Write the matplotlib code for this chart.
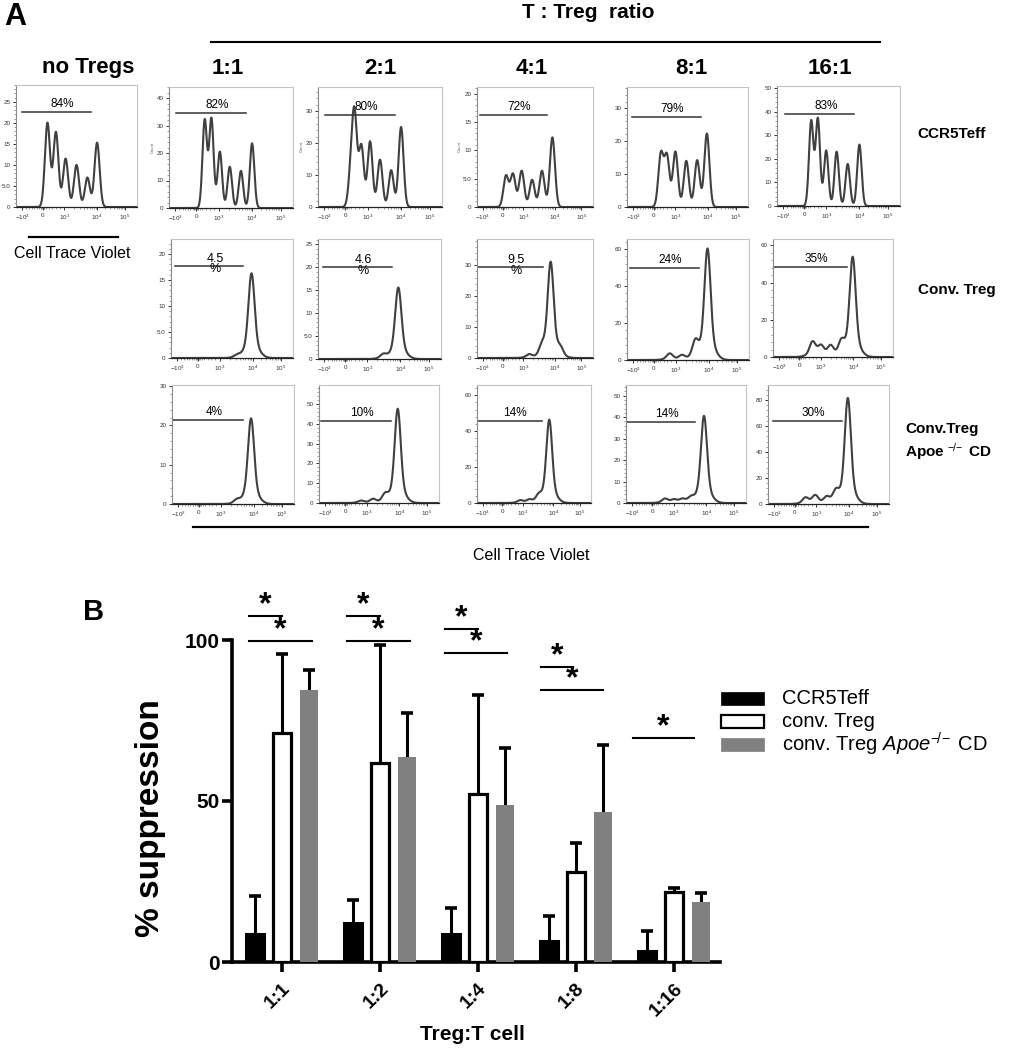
import numpy as np
import matplotlib
matplotlib.use('Agg')
import matplotlib.pyplot as plt
from matplotlib.lines import Line2D
from matplotlib.patches import Rectangle
from matplotlib.ticker import MultipleLocator

plt.rcParams['font.family'] = ['Liberation Sans', 'DejaVu Sans']
plt.rcParams['mathtext.fontset'] = 'custom'
plt.rcParams['mathtext.rm'] = 'Liberation Sans'
plt.rcParams['mathtext.it'] = 'Liberation Sans:italic'
plt.rcParams['mathtext.bf'] = 'Liberation Sans:bold'

W, H = 1009, 1050

# ---------------- panel A data ----------------
ratios = ['1:1', '2:1', '4:1', '8:1', '16:1']
row_labels = ['CCR5Teff', 'Conv. Treg', 'Conv.Treg\nApoe $^{-\\!/\\!-}$ CD']

# peak position (0-100 along the CTV axis), peak height (count)
no_tregs_pos = [26, 33, 41, 50, 59, 67]
no_tregs_h = [20, 17.8, 11.5, 10, 7, 15.3]
no_tregs_ymax = 29
no_tregs_gate = 22.5
no_tregs_pct = '84%'

teff_pos = [[28.8, 34.2, 41, 49, 58, 67],
            [26.5, 29.5, 35, 42, 50, 59, 67],
            [25, 31, 38.5, 47.5, 56, 65],
            [28, 33, 40, 49, 58, 66],
            [27.8, 33.2, 40, 48.5, 57.5, 67]]
teff_h = [[32, 32.5, 20.5, 15, 13.5, 23.5],
          [10, 27.5, 19, 20.5, 14.8, 11.5, 25],
          [5.5, 5.8, 6.4, 4.8, 6.4, 12.3],
          [16, 15.3, 16.8, 14, 14.2, 22.3],
          [36, 37, 23.5, 23, 17.8, 26]]
teff_ymax = [44, 37.5, 21.2, 36.4, 50.8]
teff_ystep = [10, 10, 5, 10, 10]
teff_gate = [34.5, 28.7, 16.3, 27.4, 38.8]
teff_pct = ['82%', '80%', '72%', '79%', '83%']

treg_pos = [[54, 66],
            [53, 65.3],
            [45, 56, 63.5, 72],
            [35, 45, 56, 66],
            [33, 40, 48, 57, 66.4]]
treg_h = [[0.5, 16.3],
          [1.0, 15.6],
          [1.2, 3.0, 30.8, 2.5],
          [3.5, 2.5, 9.5, 60],
          [8.0, 5.6, 5.8, 7.6, 53.6]]
treg_ymax = [22.9, 26.2, 38.5, 65.4, 63.4]
treg_ystep = [5, 5, 10, 20, 20]
treg_gate = [17.8, 20.1, 29.5, 49.6, 48.3]
treg_pct = ['4.5\n%', '4.6\n%', '9.5\n%', '24%', '35%']

apoe_pos = [[53, 64.8],
            [35, 45, 55, 65.6],
            [38, 46, 54, 63.4],
            [32.5, 40, 47, 54, 65],
            [31, 39, 48.5, 56, 66]]
apoe_h = [[1, 21.8],
          [1.2, 2, 4.0, 47.6],
          [1.5, 1.8, 3.6, 46.3],
          [2, 1.5, 1.8, 2.3, 40.6],
          [4.8, 6.5, 5.2, 9.0, 81.3]]
apoe_ymax = [30.3, 59.7, 65.7, 55, 91.5]
apoe_ystep = [10, 10, 20, 10, 20]
apoe_gate = [21.4, 41.6, 45.5, 37.7, 64]
apoe_pct = ['4%', '10%', '14%', '14%', '30%']

# ---------------- panel B data ----------------
groups = ['1:1', '1:2', '1:4', '1:8', '1:16']
series = ['CCR5Teff', 'conv. Treg', r'conv. Treg $\mathit{Apoe}^{-\!/\!-}$ CD']
ccr5_mean = [8.7, 12, 8.7, 6.6, 3.4]
ccr5_sd = [11.7, 7.1, 8.1, 7.7, 6.1]
conv_mean = [71, 61.8, 52.3, 28, 21.6]
conv_sd = [24.6, 36.6, 30.6, 9, 1.4]
apoe_mean = [84.5, 63.7, 48.8, 46.5, 18.6]
apoe_sd = [6.2, 13.6, 17.7, 21, 2.8]

# significance bars: group, start/end offset, height
sig_group = [0, 0, 1, 1, 2, 2, 3, 3, 4]
sig_x0 = [-0.34, -0.34, -0.34, -0.34, -0.34, -0.34, -0.36, -0.36, -0.42]
sig_x1 = [0.0, 0.31, 0.0, 0.31, 0.0, 0.30, -0.03, 0.28, 0.20]
sig_y = [107.5, 99.7, 107.5, 99.7, 103.4, 96, 91.6, 84.5, 69.6]

fig = plt.figure(figsize=(W / 100, H / 100), dpi=100)


def px_axes(l, t, r, b):
    return fig.add_axes([l / W, 1 - b / H, (r - l) / W, (b - t) / H])


def fline(x0, x1, y, lw=1.5):
    fig.add_artist(Line2D([x0 / W, x1 / W], [1 - y / H, 1 - y / H],
                          color='black', lw=lw, transform=fig.transFigure))


def ftext(x, y, s, **kw):
    fig.text(x / W, 1 - y / H, s, **kw)


xgrid = np.linspace(0, 100, 900)
minor_x = ([8, 11, 13, 15, 17, 19, 20.5, 21, 21.5, 22.5, 23, 23.5, 25, 27, 30, 33, 36]
           + list(40 + 27 * np.log10(np.arange(2, 10)))
           + list(67 + 23 * np.log10(np.arange(2, 10))))


def peak(c, s, broad):
    d2 = (xgrid - c) ** 2
    return (1 - broad) * np.exp(-d2 / (2 * s ** 2)) + broad * np.exp(-d2 / (2 * (2.2 * s) ** 2))


def histo(box, pos, hts, sigma, broad, ymax, ystep, gate_y, gate_x, pct, count=False):
    ax = px_axes(*box)
    y = np.zeros_like(xgrid)
    for c, h in zip(pos, hts):
        y += h * peak(c, sigma, broad)
    ax.plot(xgrid, y, color='#404040', lw=1.5)
    ax.set_xlim(0, 100)
    ax.set_ylim(0, ymax)
    ax.set_xticks([5, 22, 40, 67, 90])
    ax.set_xticklabels(['$-10^3$', '0', '$10^3$', '$10^4$', '$10^5$'])
    ax.set_xticks(minor_x, minor=True)
    yt = np.arange(0, ymax + 0.01, ystep)
    ax.set_yticks(yt)
    ax.set_yticklabels(['5.0' if v == 5 else f'{v:g}' for v in yt])
    ax.yaxis.set_minor_locator(MultipleLocator(ystep / 5))
    ax.tick_params(which='major', length=2.5, width=0.7, pad=1.5,
                   labelsize=4.5, colors='#333333')
    ax.tick_params(which='minor', length=1.3, width=0.4, colors='#555555')
    for sp in ['top', 'right']:
        ax.spines[sp].set_color('#c4c4c4')
        ax.spines[sp].set_linewidth(0.8)
    ax.spines['left'].set_color('#8a8a8a')
    ax.spines['left'].set_linewidth(0.8)
    ax.spines['bottom'].set_color('#222222')
    ax.spines['bottom'].set_linewidth(0.9)
    ax.plot(gate_x, [gate_y, gate_y], color='#333333', lw=1.1)
    xm = (gate_x[0] + gate_x[1]) / 2 + 5
    if '\n' in pct:
        ax.annotate(pct, xy=(xm, gate_y), xytext=(0, 1), textcoords='offset points',
                    ha='center', va='center', fontsize=9, linespacing=0.85,
                    annotation_clip=False)
    else:
        ax.annotate(pct, xy=(xm, gate_y), xytext=(0, 1.5), textcoords='offset points',
                    ha='center', va='bottom', fontsize=8.5, annotation_clip=False)
    if count:
        ax.set_ylabel('Count', fontsize=3, labelpad=1, color='#555555')
    return ax


# ---------------- panel A layout ----------------
ftext(4, 25, 'A', fontsize=22, fontweight='bold', va='baseline')
ftext(588, 12, 'T : Treg  ratio', fontsize=15, fontweight='bold', ha='center', va='center')
fline(211, 880, 42)
ftext(88, 68, 'no Tregs', fontsize=16, fontweight='bold', ha='center', va='center')
for cx, lab in zip([228, 380, 532, 691, 830], ratios):
    ftext(cx, 68, lab, fontsize=16, fontweight='bold', ha='center', va='center')

histo((16, 85, 137, 207), no_tregs_pos, no_tregs_h, 2.1, 0.0, no_tregs_ymax, 5,
      no_tregs_gate, (5, 62), no_tregs_pct)
fline(29, 118, 237, lw=1.6)
ftext(72, 253, 'Cell Trace Violet', fontsize=11.5, ha='center', va='center')

row1_box = [(169, 87, 293, 208), (318, 87, 442, 207), (477, 87, 593, 207),
            (627, 87, 748, 207), (777, 86, 900, 206)]
row2_box = [(171, 239, 293, 358), (318, 239, 441, 359), (477, 239, 593, 358),
            (627, 239, 749, 360), (773, 239, 893, 357)]
row3_box = [(172, 385, 294, 504), (319, 385, 439, 503), (477, 385, 591, 503),
            (626, 385, 746, 503), (768, 385, 889, 504)]
teff_gx = [(6, 62), (6, 62), (3, 60), (4, 61), (6.5, 63)]
treg_gx = [(3, 59), (4, 60), (0, 57), (2.5, 59), (0, 62)]
apoe_gx = [(1, 58), (2, 60), (0, 57), (0, 57.5), (4, 61)]
teff_sig = [1.8, 2.0, 2.2, 2.1, 1.8]

for i in range(5):
    histo(row1_box[i], teff_pos[i], teff_h[i], teff_sig[i], 0.0, teff_ymax[i],
          teff_ystep[i], teff_gate[i], teff_gx[i], teff_pct[i], count=(i < 3))
    histo(row2_box[i], treg_pos[i], treg_h[i], 2.4, 0.2, treg_ymax[i], treg_ystep[i],
          treg_gate[i], treg_gx[i], treg_pct[i])
    histo(row3_box[i], apoe_pos[i], apoe_h[i], 2.4, 0.2, apoe_ymax[i], apoe_ystep[i],
          apoe_gate[i], apoe_gx[i], apoe_pct[i])

ftext(917, 134, row_labels[0], fontsize=11, fontweight='bold', va='center')
ftext(918, 290, row_labels[1], fontsize=11, fontweight='bold', va='center')
ftext(905, 442, row_labels[2], fontsize=11, fontweight='bold', va='center',
      linespacing=1.3)

fline(193, 868, 527, lw=1.6)
ftext(531, 555, 'Cell Trace Violet', fontsize=11.5, ha='center', va='center')

# ---------------- panel B ----------------
ftext(83, 620, 'B', fontsize=21, fontweight='bold', va='baseline')
axb = px_axes(232, 640, 720, 962)
x = np.arange(len(groups))
off, bw = 0.275, 0.19
axb.bar(x - off, ccr5_mean, bw, color='black', edgecolor='black', lw=2.2, zorder=3)
axb.bar(x, conv_mean, bw, color='white', edgecolor='black', lw=2.3, zorder=3)
axb.bar(x + off, apoe_mean, bw, color='#808080', zorder=3)
for xs, m, sd in [(x - off, ccr5_mean, ccr5_sd), (x, conv_mean, conv_sd),
                  (x + off, apoe_mean, apoe_sd)]:
    eb = axb.errorbar(xs, m, yerr=[np.zeros(len(m)), sd], fmt='none', ecolor='black',
                      elinewidth=2.2, capsize=4.5, capthick=2.6, zorder=2)
    eb[1][0].set_visible(False)   # only the upper cap, as in the original

axb.set_xlim(-0.51, 4.47)
axb.set_ylim(0, 100)
for sp in ['top', 'right']:
    axb.spines[sp].set_visible(False)
for sp in ['left', 'bottom']:
    axb.spines[sp].set_linewidth(2.6)
axb.set_yticks([0, 50, 100])
axb.set_yticklabels(['0', '50', '100'], fontsize=15, fontweight='bold')
axb.set_xticks(x)
axb.set_xticklabels(groups, rotation=45, ha='right', rotation_mode='anchor',
                    fontsize=14, fontweight='bold')
axb.tick_params(axis='y', length=7, width=2.6, pad=2)
axb.tick_params(axis='x', length=7, width=2.6, pad=6)

for g, a, b, lvl in zip(sig_group, sig_x0, sig_x1, sig_y):
    axb.plot([g + a, g + b], [lvl, lvl], color='black', lw=1.5, clip_on=False)
    axb.annotate('*', xy=(g + (a + b) / 2, lvl), xytext=(0, -3), textcoords='offset points',
                 ha='center', va='bottom', fontsize=23, fontweight='bold',
                 annotation_clip=False)

ftext(150, 818, '% suppression', fontsize=24, fontweight='bold', rotation=90,
      ha='center', va='center')
ftext(472, 1035, 'Treg:T cell', fontsize=15, fontweight='bold', ha='center', va='center')

# legend (swatch + label rows)
swatch = [dict(facecolor='black', edgecolor='black', lw=0.5),
          dict(facecolor='white', edgecolor='black', lw=1.6),
          dict(facecolor='#808080', edgecolor='#808080', lw=0.5)]
for row, (lab, st) in enumerate(zip(series, swatch)):
    yc = 698.5 + 23 * row
    fig.add_artist(Rectangle((721 / W, 1 - (yc + 6.5) / H), 43 / W, 13 / H,
                             transform=fig.transFigure, **st))
    ftext(782, yc, lab, fontsize=14.5, va='center')

fig.savefig('out.png', dpi=100)
